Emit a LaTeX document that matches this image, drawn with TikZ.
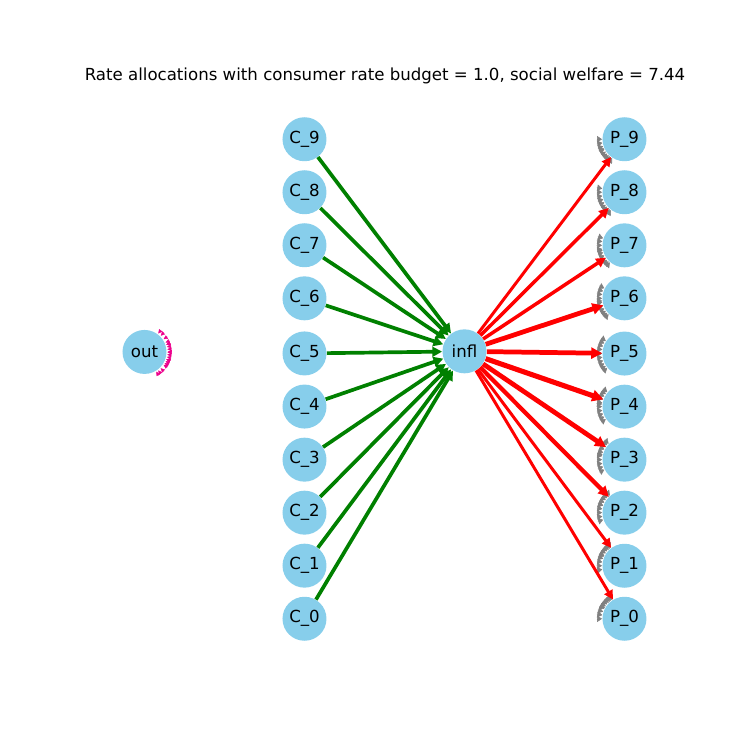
\documentclass[tikz,border=0pt]{standalone}
\usepackage{fontspec}
\setmainfont{DejaVu Sans}
\usetikzlibrary{matrix, arrows.meta, calc}

\definecolor{nodeblue}{HTML}{87CEEB}
\definecolor{buygreen}{HTML}{008000}

\tikzset{
  vert/.style = {circle, fill=nodeblue, minimum size=0.88cm, inner sep=0pt},
  buy/.style = {buygreen, line width=2.1pt, -{Triangle[length=3.5pt 1, width=3.5pt 1]}},
  sell/.style = {red, line width=#1, -{Triangle[length=3.5pt 1, width=3.5pt 1]}},
  comb/.style = {#1, line width=0.3pt, -{Triangle[length=0.1cm, width=0.13cm]}},
  tooth/.style = {magenta, line width=0.2pt, -{Triangle[length=0.08cm, width=0.08cm]}}
}

\begin{document}
\begin{tikzpicture}[font=\fontsize{9.45}{11}\selectfont]
\useasboundingbox (0,0) rectangle (15,15);
\node (title) at (7.7,13.48) {Rate allocations with consumer rate budget = 1.0, social welfare = 7.44};
\matrix (m) [matrix of nodes, column sep = 2.32cm, row sep = 0.18cm] at (7.69,7.42) {
 & \node[vert](c9){C\_9}; & & \node[vert](p9){P\_9}; \\
 & \node[vert](c8){C\_8}; & & \node[vert](p8){P\_8}; \\
 & \node[vert](c7){C\_7}; & & \node[vert](p7){P\_7}; \\
 & \node[vert](c6){C\_6}; & & \node[vert](p6){P\_6}; \\
\node[vert](out){out}; & \node[vert](c5){C\_5}; & \node[vert](infl){infl}; & \node[vert](p5){P\_5}; \\
 & \node[vert](c4){C\_4}; & & \node[vert](p4){P\_4}; \\
 & \node[vert](c3){C\_3}; & & \node[vert](p3){P\_3}; \\
 & \node[vert](c2){C\_2}; & & \node[vert](p2){P\_2}; \\
 & \node[vert](c1){C\_1}; & & \node[vert](p1){P\_1}; \\
 & \node[vert](c0){C\_0}; & & \node[vert](p0){P\_0}; \\
};
% zero-rate edges: only their heads show
\foreach \i in {0,...,9} {
  \foreach \j in {0,...,9}
    \draw[comb=gray] ($(p\i)!0.56cm!(c\j)$) -- ($(p\i)!0.45cm!(c\j)$);
  \draw[comb=gray] ($(p\i)!0.56cm!(out)$) -- ($(p\i)!0.45cm!(out)$);
  \draw[tooth] ($(out)!0.55cm!(c\i)$) -- ($(out)!0.46cm!(c\i)$);
  \draw[tooth] ($(out)!0.55cm!(p\i)$) -- ($(out)!0.46cm!(p\i)$);
}
% consumers
\draw[buy] (c9) -- (infl);
\draw[buy] (c8) -- (infl);
\draw[buy] (c7) -- (infl);
\draw[buy] (c6) -- (infl);
\draw[buy] (c5) -- (infl);
\draw[buy] (c4) -- (infl);
\draw[buy] (c3) -- (infl);
\draw[buy] (c2) -- (infl);
\draw[buy] (c1) -- (infl);
\draw[buy] (c0) -- (infl);
% producers
\draw[sell=1.7pt] (infl) -- (p9);
\draw[sell=2.0pt] (infl) -- (p8);
\draw[sell=2.0pt] (infl) -- (p7);
\draw[sell=2.7pt] (infl) -- (p6);
\draw[sell=2.7pt] (infl) -- (p5);
\draw[sell=2.9pt] (infl) -- (p4);
\draw[sell=2.7pt] (infl) -- (p3);
\draw[sell=2.4pt] (infl) -- (p2);
\draw[sell=1.7pt] (infl) -- (p1);
\draw[sell=1.7pt] (infl) -- (p0);
\end{tikzpicture}
\end{document}
